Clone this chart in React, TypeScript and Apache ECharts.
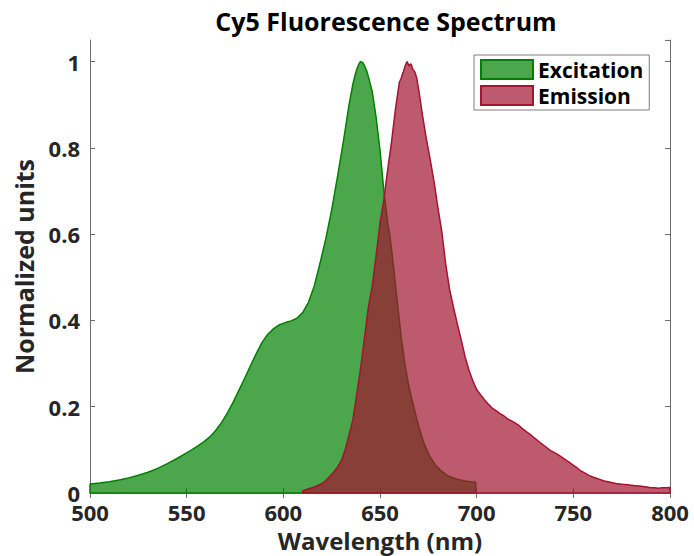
import React, { useEffect, useRef } from "react";
import * as echarts from "echarts";

// Cy5 excitation spectrum (normalized)
const excitationWavelengths = [
  500, 505, 510, 515, 520, 525, 530, 535, 540, 545, 550, 553, 556, 559, 562, 565, 568, 571, 574, 577,
  580, 583, 586, 589, 592, 595, 598, 601, 604, 607, 610, 613, 616, 619, 622, 625, 628, 631, 634, 636,
  637, 638, 639, 640, 641, 642, 643, 644, 646, 648, 650, 652, 654, 655, 657, 659, 661, 663, 665, 667,
  669, 671, 673, 676, 679, 682, 685, 688, 691, 694, 697, 699.5,
];
const excitationValues = [
  0.021, 0.023, 0.026, 0.03, 0.035, 0.041, 0.048, 0.057, 0.068, 0.08, 0.093, 0.101, 0.11, 0.119, 0.13, 0.145, 0.163, 0.185, 0.21, 0.238,
  0.266, 0.295, 0.323, 0.349, 0.368, 0.381, 0.39, 0.395, 0.399, 0.405, 0.418, 0.442, 0.48, 0.533, 0.59, 0.656, 0.733, 0.813, 0.9, 0.948,
  0.967, 0.982, 0.994, 1.0, 0.998, 0.99, 0.98, 0.965, 0.93, 0.87, 0.795, 0.7,
  0.625, 0.6, 0.525, 0.44, 0.36, 0.295, 0.245, 0.208,
  0.172, 0.14, 0.112, 0.083, 0.063, 0.05, 0.04, 0.035, 0.031, 0.028, 0.026, 0.025,
];

// Cy5 emission spectrum (normalized)
const emissionWavelengths = [
  610, 612, 614, 616, 618, 620, 622, 624, 626, 628, 630, 632, 634, 636, 638, 640, 642, 644, 646, 648,
  650, 652, 654, 656, 658, 660, 661, 662, 663, 664, 665, 666, 667, 668, 669, 670, 672, 674, 676, 678,
  680, 682, 684, 686, 688, 690, 692, 694, 696, 698, 700, 702, 704, 706, 708, 710, 712, 714, 716, 718,
  720, 722, 724, 726, 728, 730, 732, 734, 736, 738, 740, 742, 744, 746, 748, 750, 752, 754, 756, 758,
  760, 762, 764, 766, 768, 770, 772, 774, 776, 778, 780, 782, 784, 786, 788, 790, 792, 794, 796, 798, 800,
];
const emissionValues = [
  0.005, 0.008, 0.011, 0.014, 0.018, 0.022, 0.029, 0.038, 0.048, 0.06, 0.075, 0.1, 0.135, 0.17, 0.23, 0.29, 0.36, 0.431, 0.48, 0.55,
  0.625, 0.68, 0.75, 0.815, 0.89, 0.952, 0.962, 0.975, 0.99, 1.0, 0.99, 0.995, 0.982, 0.976, 0.962, 0.935, 0.875, 0.82, 0.772, 0.72,
  0.66, 0.605, 0.53, 0.472, 0.43, 0.392, 0.355, 0.316, 0.285, 0.26, 0.24, 0.228, 0.216, 0.206, 0.197, 0.191, 0.184, 0.179, 0.172, 0.167,
  0.162, 0.156, 0.148, 0.141, 0.135, 0.127, 0.12, 0.113, 0.106, 0.099, 0.094, 0.089, 0.083, 0.077, 0.071, 0.064, 0.058, 0.051, 0.046, 0.041,
  0.037, 0.034, 0.031, 0.028, 0.026, 0.024, 0.022, 0.021, 0.02, 0.019, 0.018, 0.017, 0.016, 0.015, 0.014, 0.012, 0.012, 0.011, 0.012, 0.012, 0.013,
];

const xTicks = { min: 500, max: 800, interval: 50 };
const yTicks = { min: 0, max: 1.05, interval: 0.2 };

const FONT = "'Open Sans', 'Noto Sans', sans-serif";
const INK = "#262626";
const AXIS = "#6a6a6a";
const GREEN = "#008000";
const RED = "#A2142F";

// closed outline: baseline -> curve -> baseline -> back along the baseline
function outline(wl: number[], v: number[]): number[][] {
  const pts: number[][] = [[wl[0], 0]];
  wl.forEach((w, i) => pts.push([w, v[i]]));
  const last = wl[wl.length - 1];
  pts.push([last, 0]);
  pts.push([wl[0], 0]);
  return pts;
}

export default function App() {
  const ref = useRef<HTMLDivElement>(null);

  useEffect(() => {
    if (!ref.current) return;
    const chart = echarts.init(ref.current, undefined, { renderer: "svg" });

    const hiddenAxis = {
      axisLine: { show: true, lineStyle: { color: AXIS, width: 1 } },
      axisTick: { show: true, inside: true, length: 5, lineStyle: { color: AXIS } },
      axisLabel: { show: false },
      splitLine: { show: false },
    };

    chart.setOption({
      animation: false,
      backgroundColor: "#ffffff",
      title: {
        text: "Cy5 Fluorescence Spectrum",
        left: 381,
        top: 3,
        textAlign: "center",
        textStyle: { fontFamily: FONT, fontWeight: "bold", fontSize: 25, color: "#000" },
      },
      grid: {
        left: 90,
        right: 24,
        top: 40,
        bottom: 63,
        containLabel: false,
        outerBoundsMode: "none",
      },
      legend: {
        left: 474,
        top: 55,
        orient: "vertical",
        backgroundColor: "#ffffff",
        borderColor: "#7f7f7f",
        borderWidth: 1,
        padding: [4, 6, 4, 6],
        itemGap: 5,
        itemWidth: 52,
        itemHeight: 19,
        icon: "rect",
        textStyle: { fontFamily: FONT, fontWeight: "bold", fontSize: 21, color: "#000" },
        data: [
          {
            name: "Excitation",
            itemStyle: { color: "rgba(0,128,0,0.7)", borderColor: GREEN, borderWidth: 2 },
          },
          {
            name: "Emission",
            itemStyle: { color: "rgba(162,20,47,0.7)", borderColor: RED, borderWidth: 2 },
          },
        ],
      },
      xAxis: [
        {
          type: "value",
          ...xTicks,
          name: "Wavelength (nm)",
          nameLocation: "middle",
          nameGap: 38,
          nameTextStyle: {
            fontFamily: FONT,
            fontWeight: "bold",
            fontSize: 24,
            lineHeight: 18,
            color: INK,
          },
          axisLine: { show: true, onZero: false, lineStyle: { color: AXIS, width: 1 } },
          axisTick: { show: true, inside: true, length: 5, lineStyle: { color: AXIS } },
          axisLabel: {
            fontFamily: FONT,
            fontWeight: "bold",
            fontSize: 22,
            lineHeight: 18,
            color: INK,
            margin: 10,
          },
          splitLine: { show: false },
        },
        { type: "value", position: "top", ...xTicks, ...hiddenAxis },
      ],
      yAxis: [
        {
          type: "value",
          ...yTicks,
          name: "Normalized units",
          nameLocation: "middle",
          nameGap: 54,
          nameTextStyle: { fontFamily: FONT, fontWeight: "bold", fontSize: 25, color: INK },
          axisLine: { show: true, onZero: false, lineStyle: { color: AXIS, width: 1 } },
          axisTick: { show: true, inside: true, length: 5, lineStyle: { color: AXIS } },
          axisLabel: {
            fontFamily: FONT,
            fontWeight: "bold",
            fontSize: 22,
            lineHeight: 18,
            color: INK,
            margin: 10,
            showMaxLabel: false,
          },
          splitLine: { show: false },
        },
        { type: "value", position: "right", ...yTicks, ...hiddenAxis },
      ],
      series: [
        {
          name: "Excitation",
          type: "line",
          data: outline(excitationWavelengths, excitationValues),
          showSymbol: false,
          symbol: "none",
          lineStyle: { color: GREEN, width: 1.5 },
          itemStyle: { color: "rgba(0,128,0,0.7)" },
          areaStyle: { color: GREEN, opacity: 0.7, origin: "start" },
          z: 2,
        },
        {
          name: "Emission",
          type: "line",
          data: outline(emissionWavelengths, emissionValues),
          showSymbol: false,
          symbol: "none",
          lineStyle: { color: RED, width: 1.5 },
          itemStyle: { color: "rgba(162,20,47,0.7)" },
          areaStyle: { color: RED, opacity: 0.7, origin: "start" },
          z: 3,
        },
      ],
    });

    return () => chart.dispose();
  }, []);

  return (
    <div
      ref={ref}
      style={{ position: "fixed", left: 0, top: 0, width: 694, height: 556, background: "#fff" }}
    />
  );
}
